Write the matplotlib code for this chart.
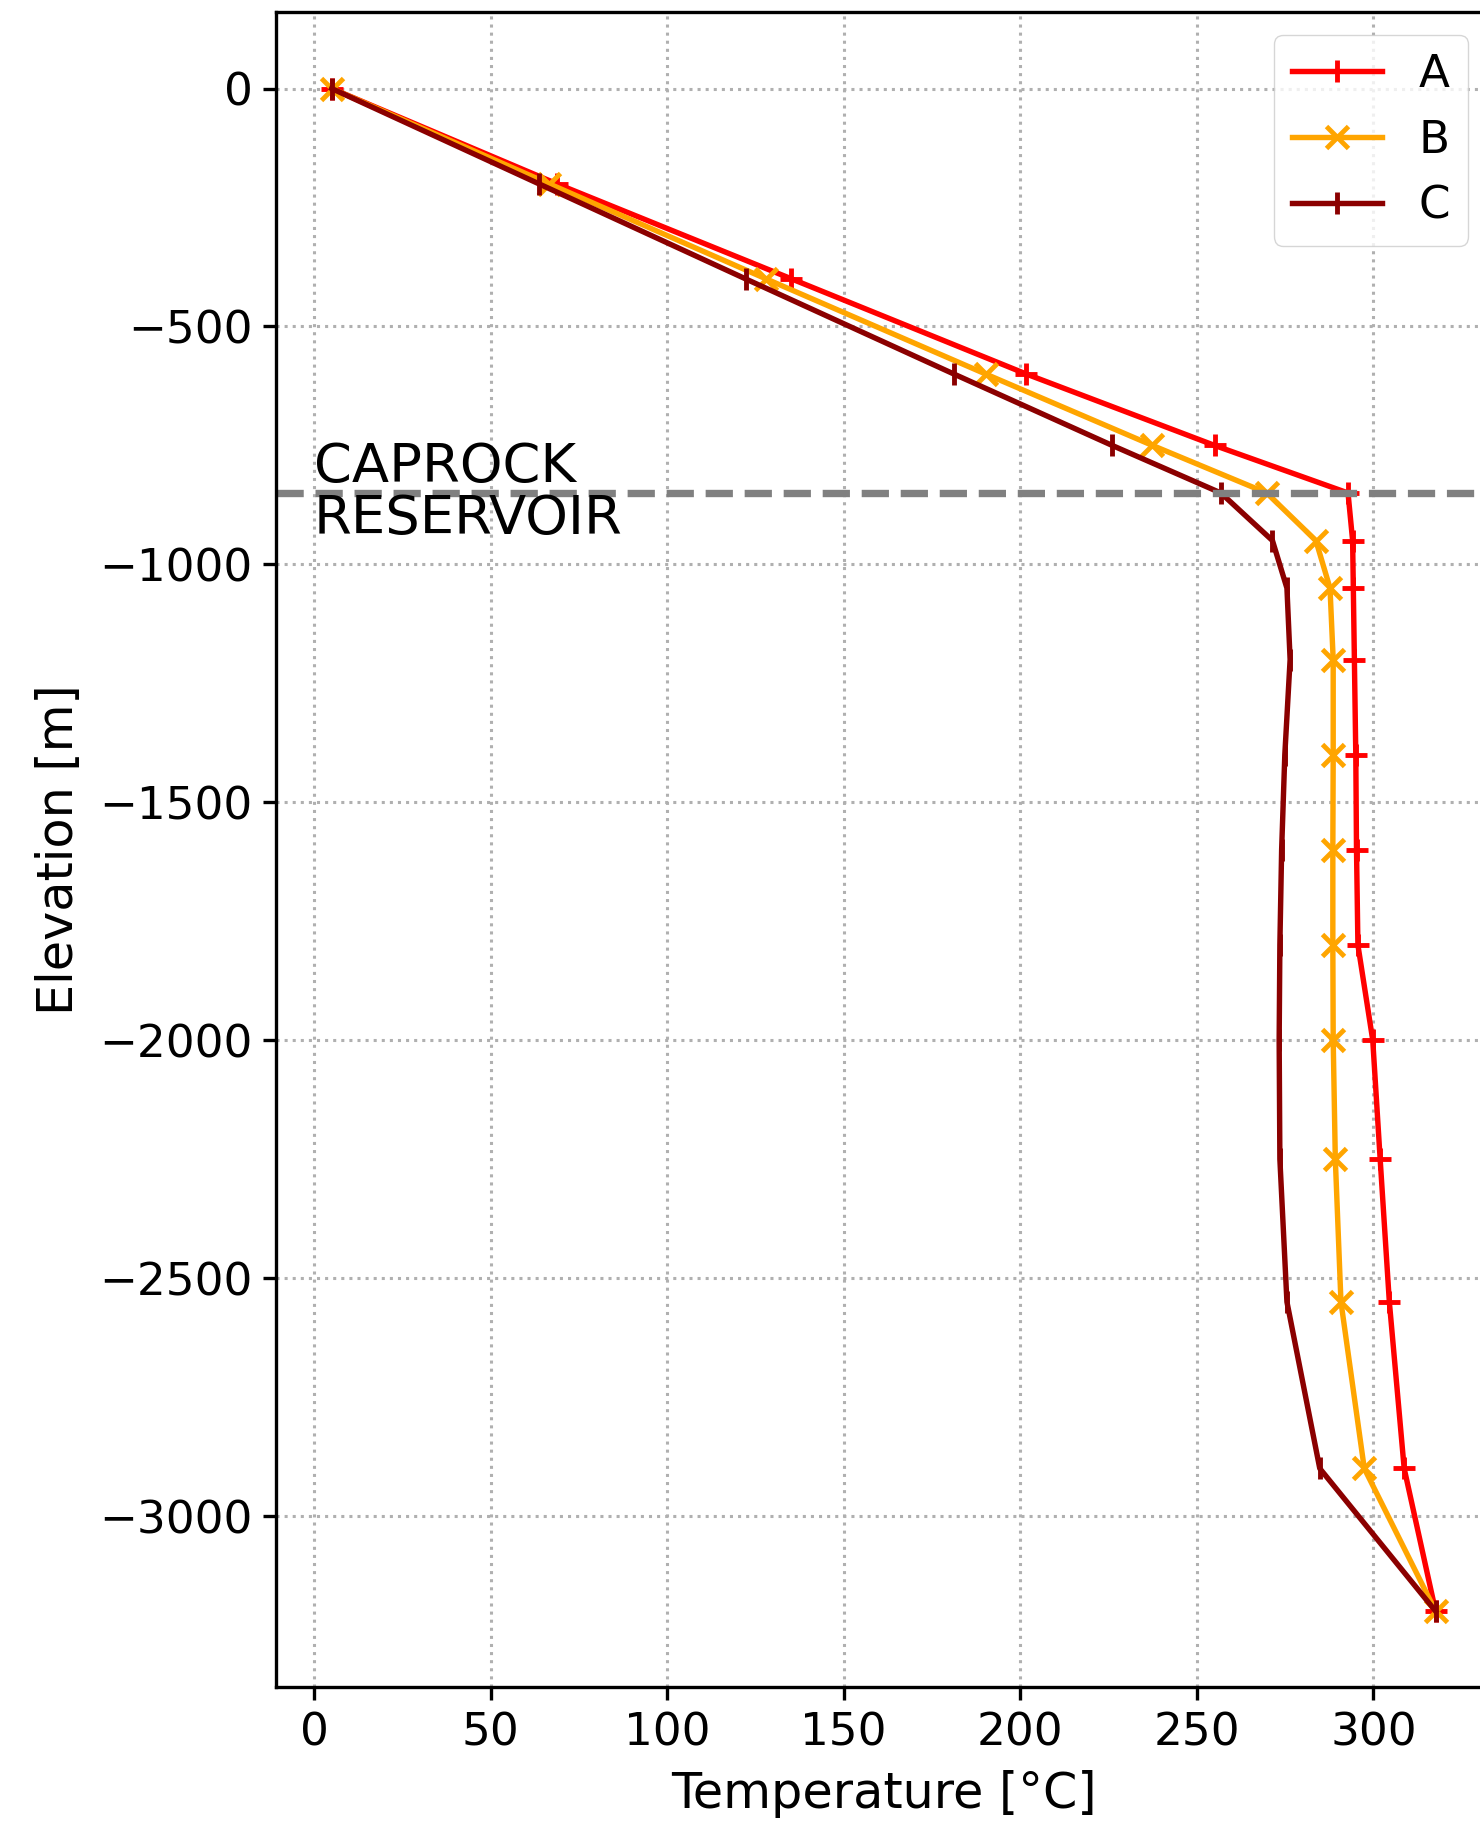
import matplotlib
matplotlib.use('Agg')
import matplotlib.pyplot as plt

# elevation of the sample points [m]
elevation = [0, -200, -400, -600, -750, -850, -950, -1050, -1200, -1400,
             -1600, -1800, -2000, -2250, -2550, -2900, -3200]

# temperature profiles [degC]
temp_a = [5, 68.7, 135.2, 201.7, 255.0, 292.8, 294.1, 294.3, 294.6, 295.0,
          295.2, 295.6, 299.8, 301.9, 304.5, 308.7, 317.6]
temp_b = [5, 66.5, 128.0, 190.2, 237.4, 269.8, 283.7, 287.7, 288.6, 288.6,
          288.5, 288.5, 288.6, 289.2, 290.8, 297.4, 317.6]
temp_c = [5, 63.6, 122.2, 181.2, 226.0, 256.8, 271.4, 275.5, 276.4, 274.9,
          274.0, 273.5, 273.3, 273.5, 275.5, 284.8, 317.6]

caprock_depth = -850

s = 2.2  # scale from "normal" points to this big canvas
plt.rcParams.update({
    'font.size': 32.6,
    'axes.labelsize': 35.5,
    'legend.fontsize': 32.6,
    'axes.linewidth': 2.4,
    'xtick.major.size': 9.4,
    'ytick.major.size': 9.4,
    'xtick.major.width': 2.4,
    'ytick.major.width': 2.4,
    'xtick.major.pad': 3.5 * s,
    'ytick.major.pad': 3.5 * s,
    'axes.labelpad': 11.5,
})

fig = plt.figure(figsize=(14.8, 18.21), dpi=100)
ax = fig.add_axes([0.1868, 0.0734, 0.8205, 0.9198])

lw = 3.9
ms = 16.4
mew = 3.5
ax.plot(temp_a, elevation, color='red', marker='+', lw=lw, ms=ms, mew=mew, label='A')
ax.plot(temp_b, elevation, color='orange', marker='x', lw=lw, ms=ms, mew=mew, label='B')
ax.plot(temp_c, elevation, color='darkred', marker='|', lw=lw, ms=ms, mew=mew, label='C')

ax.axhline(caprock_depth, color='gray', linestyle='--', lw=5.3)
ax.text(0, caprock_depth, 'CAPROCK', fontsize=39.2, va='bottom', ha='left')
ax.text(0, caprock_depth, 'RESERVOIR', fontsize=39.2, va='top', ha='left')

ax.grid(True, linestyle=':', color='#b0b0b0', lw=2.2)
ax.set_xlabel('Temperature [°C]')
ax.set_ylabel('Elevation [m]')
ax.legend(loc='upper right')

fig.savefig('out.png', dpi=100)
